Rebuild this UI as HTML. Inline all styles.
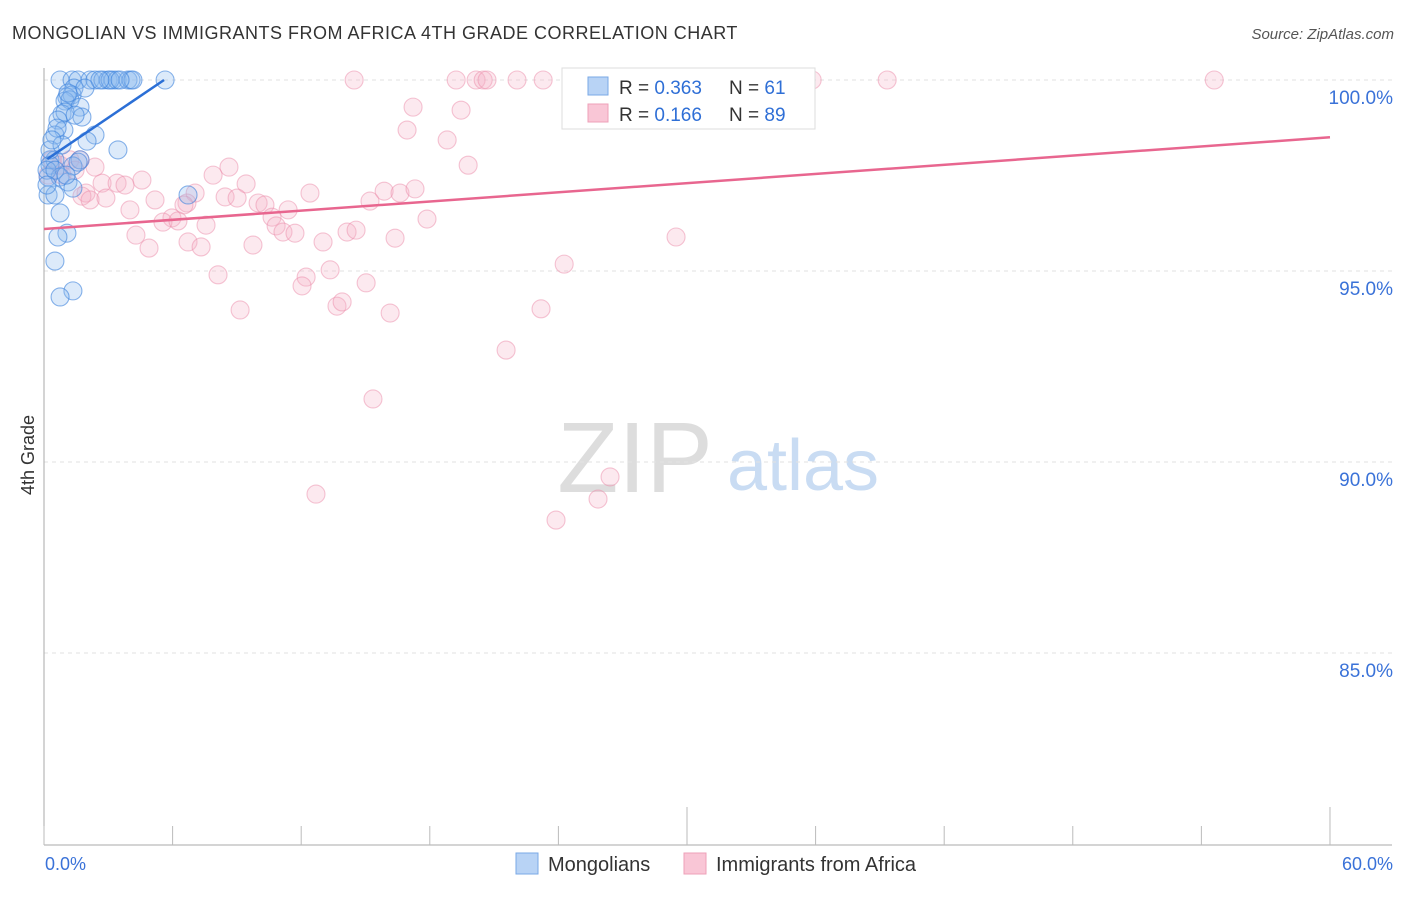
<!DOCTYPE html>
<html><head><meta charset="utf-8"><style>
body{margin:0;background:#fff;font-family:"Liberation Sans",sans-serif}
svg text{font-family:"Liberation Sans",sans-serif}
</style></head><body>
<svg width="1406" height="892" xmlns="http://www.w3.org/2000/svg">
<text x="12" y="39" font-size="18" fill="#333" letter-spacing="0.5">MONGOLIAN VS IMMIGRANTS FROM AFRICA 4TH GRADE CORRELATION CHART</text>
<text x="1394" y="39" font-size="15" fill="#555" font-style="italic" text-anchor="end">Source: ZipAtlas.com</text>
<text x="34" y="455" font-size="18" fill="#333" transform="rotate(-90 34 455)" text-anchor="middle">4th Grade</text>
<g>
<text x="635" y="492" font-size="100" fill="#ddd" text-anchor="middle" font-family="Liberation Serif">ZIP</text>
<text x="803" y="490" font-size="72" fill="#c9dcf3" text-anchor="middle">atlas</text>
</g>
<g id="grid"></g>
<g id="axes"></g>
<g id="pts"></g>
<g id="lines"></g>
<g>
<rect x="562" y="68" width="253" height="61" fill="#fff" stroke="#ddd"/>
<rect x="588" y="77" width="20" height="18" fill="#b8d3f5" stroke="#7aa8e6"/>
<rect x="588" y="104" width="20" height="18" fill="#f9c6d6" stroke="#eea0b8"/>
<text x="619" y="94" font-size="19" fill="#333">R = <tspan fill="#2f6fd6">0.363</tspan></text>
<text x="729" y="94" font-size="19" fill="#333">N = <tspan fill="#2f6fd6">61</tspan></text>
<text x="619" y="121" font-size="19" fill="#333">R = <tspan fill="#2f6fd6">0.166</tspan></text>
<text x="729" y="121" font-size="19" fill="#333">N = <tspan fill="#2f6fd6">89</tspan></text>
</g>
<g>
<rect x="516" y="853" width="22" height="21" fill="#b8d3f5" stroke="#7aa8e6"/>
<text x="548" y="871" font-size="20" fill="#333">Mongolians</text>
<rect x="684" y="853" width="22" height="21" fill="#f9c6d6" stroke="#eea0b8"/>
<text x="716" y="871" font-size="20" fill="#333">Immigrants from Africa</text>
</g>
</svg>
<script>
const yTicks=[100,95,90,85];
const yTickLabels=["100.0%","95.0%","90.0%","85.0%"];
const xTickLabels=["0.0%","60.0%"];
const bluePx=[[60,80],[72,80],[78,80],[90,80],[95,80],[103,80],[108,80],[113,80],[117,80],[128,80],[131,80],[133,80],[165,80],[110,80],[74,88],[67,97],[72,95],[65,101],[70,100],[80,107],[62,114],[65,112],[58,120],[82,117],[64,130],[55,135],[95,135],[87,141],[118,150],[50,160],[55,160],[80,160],[50,165],[73,166],[48,177],[60,177],[68,182],[73,188],[48,195],[55,195],[188,195],[60,213],[67,233],[58,237],[55,261],[73,291],[60,297],[50,150],[62,145],[47,170],[55,170],[57,128],[75,115],[68,93],[85,88],[100,80],[120,80],[52,140],[78,162],[66,175],[47,185]];
const pinkPx=[[354,80],[456,80],[476,80],[483,80],[487,80],[517,80],[543,80],[574,80],[700,80],[750,80],[762,80],[778,80],[812,80],[887,80],[1214,80],[413,107],[461,110],[407,130],[447,140],[468,165],[52,160],[60,165],[70,160],[80,160],[95,167],[48,175],[62,175],[75,170],[229,167],[213,175],[142,180],[102,183],[117,183],[125,185],[86,193],[82,196],[90,200],[106,198],[246,184],[195,193],[187,203],[155,200],[225,197],[237,198],[258,203],[265,205],[310,193],[288,210],[384,191],[400,193],[415,189],[370,201],[130,210],[184,205],[172,218],[163,222],[178,221],[206,225],[272,217],[276,226],[283,232],[295,233],[347,232],[356,230],[323,242],[395,238],[427,219],[136,235],[149,248],[188,242],[201,247],[253,245],[676,237],[218,275],[330,270],[306,277],[302,286],[366,283],[564,264],[240,310],[337,306],[342,302],[390,313],[541,309],[506,350],[373,399],[316,494],[610,477],[598,499],[556,520]];
const blueX=bluePx.map(p=>+((p[0]-44)/21.43).toFixed(2)), blueY=bluePx.map(p=>+(100-(p[1]-80)/38.2).toFixed(2));
const pinkX=pinkPx.map(p=>+((p[0]-44)/21.43).toFixed(2)), pinkY=pinkPx.map(p=>+(100-(p[1]-80)/38.2).toFixed(2));
const blueTrend=[[0.15,97.93],[5.6,100]];
const pinkTrend=[[0,96.1],[60,98.5]];
const NS="http://www.w3.org/2000/svg";
const X=v=>44+v*21.433, Y=v=>80+(100-v)*38.2;
function mk(t,a,parent){const e=document.createElementNS(NS,t);for(const k in a)e.setAttribute(k,a[k]);document.getElementById(parent).appendChild(e);return e;}
yTicks.forEach((t,i)=>{
 const l=mk('line',{x1:44,x2:1392,y1:Y(t),y2:Y(t),stroke:'#e2e2e2','stroke-dasharray':'4,4'},'grid');
 
 
 const tx=mk('text',{x:1393,y:Y(t)+24,'font-size':19,fill:'#3a72d8','text-anchor':'end'},'grid');
 tx.textContent=yTickLabels[i];
 
 
});
let ax=mk('line',{x1:44,x2:44,y1:68,y2:845,stroke:'#aaa'},'axes');


ax=mk('line',{x1:44,x2:1392,y1:845,y2:845,stroke:'#aaa'},'axes');


for(let i=0;i<=10;i++){const x=X(i*6);const tk=mk('line',{x1:x,x2:x,y1:(i==5||i==10)?807:826,y2:845,stroke:'#bbb'},'axes');
 
 }
[[0,'start',45],[60,'end',1393]].forEach((d,i)=>{const t=mk('text',{x:d[2],y:870,'font-size':18,fill:'#3a72d8','text-anchor':d[1]},'axes');t.textContent=xTickLabels[i];
 
 });
pinkX.forEach((x,i)=>{const c=mk('circle',{cx:X(x),cy:Y(pinkY[i]),r:9,fill:'rgba(246,175,198,0.28)',stroke:'rgba(236,140,170,0.5)','stroke-width':1.1},'pts');
 
 });
blueX.forEach((x,i)=>{const c=mk('circle',{cx:X(x),cy:Y(blueY[i]),r:9,fill:'rgba(140,185,240,0.3)',stroke:'rgba(60,130,220,0.6)','stroke-width':1.1},'pts');
 
 });
let tl=mk('line',{x1:X(pinkTrend[0][0]),y1:Y(pinkTrend[0][1]),x2:X(pinkTrend[1][0]),y2:Y(pinkTrend[1][1]),stroke:'#e8668f','stroke-width':2.5},'lines');


tl=mk('line',{x1:X(blueTrend[0][0]),y1:Y(blueTrend[0][1]),x2:X(blueTrend[1][0]),y2:Y(blueTrend[1][1]),stroke:'#2b6fd6','stroke-width':2.5},'lines');


</script>
</body></html>
